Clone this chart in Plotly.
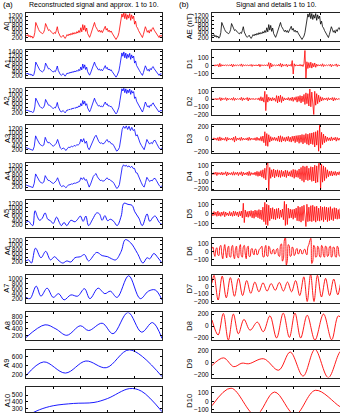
import numpy as np
import plotly.graph_objects as go

# ---------------- data ----------------
# sample axis: 0..1000 (relative time units)
signal = [300, 260, 330, 220, 290, 200, 260, 160, 230, 420,
          900, 760, 640, 560, 470, 430, 390, 370, 430, 560,
          850, 700, 590, 520, 560, 470, 440, 400, 360, 430,
          380, 520, 700, 450, 320, 250, 200, 260, 300, 210,
          150, 230, 330, 270, 360, 300, 390, 320, 420, 350,
          430, 370, 470, 400, 520, 430, 650, 460, 800, 540,
          760, 480, 640, 380, 240, 200, 320, 480, 620, 760,
          900, 720, 600, 560, 470, 540, 440, 520, 420, 500,
          620, 720, 540, 620, 470, 540, 440, 500, 400, 330,
          240, 150, 100, 180, 260, 420, 700, 1100, 1300, 1150,
          1350, 1080, 1320, 1040, 1260, 1100, 1320, 1000, 1260, 1080,
          1200, 820, 960, 700, 640, 520, 440, 340, 250, 190,
          340, 520, 700, 580, 440, 520, 400, 560, 480, 620,
          660, 540, 460, 380, 300, 240, 190, 300, 240, 310]

a1 = [300, 270, 320, 230, 280, 210, 250, 170, 240, 440,
      880, 770, 640, 560, 480, 430, 400, 380, 430, 550,
      830, 700, 590, 530, 550, 470, 440, 400, 370, 430,
      390, 510, 680, 450, 320, 250, 200, 250, 290, 220,
      160, 230, 320, 280, 350, 310, 380, 330, 410, 360,
      430, 380, 460, 410, 510, 440, 630, 480, 780, 560,
      740, 500, 620, 390, 250, 210, 320, 470, 610, 750,
      880, 720, 610, 560, 480, 530, 450, 510, 430, 500,
      610, 700, 550, 610, 480, 530, 450, 490, 400, 330,
      250, 160, 110, 180, 270, 430, 720, 1120, 1350, 1180,
      1400, 1100, 1340, 1060, 1280, 1120, 1330, 1020, 1250, 1090,
      1190, 830, 940, 710, 640, 520, 440, 350, 260, 200,
      340, 510, 690, 580, 450, 510, 410, 550, 490, 610,
      650, 540, 460, 380, 300, 250, 200, 290, 250, 300]

a2 = [300, 280, 300, 240, 260, 220, 230, 180, 250, 450,
      860, 760, 640, 560, 480, 430, 400, 390, 430, 540,
      800, 700, 590, 530, 540, 470, 440, 400, 380, 420,
      400, 500, 660, 450, 330, 260, 210, 250, 280, 220,
      170, 240, 310, 290, 340, 320, 370, 340, 400, 370,
      420, 390, 450, 420, 500, 450, 610, 500, 750, 580,
      720, 520, 600, 400, 260, 220, 320, 460, 600, 740,
      860, 720, 610, 560, 490, 520, 460, 500, 440, 490,
      600, 680, 560, 600, 490, 520, 460, 480, 410, 330,
      250, 170, 120, 180, 280, 440, 740, 1100, 1300, 1200,
      1330, 1120, 1300, 1080, 1250, 1120, 1290, 1040, 1220, 1100,
      1170, 850, 920, 720, 640, 520, 440, 360, 270, 210,
      330, 500, 680, 580, 460, 500, 420, 540, 500, 600,
      640, 540, 460, 380, 300, 260, 210, 280, 260, 290]

a3 = [300, 280, 260, 230, 200, 170, 350, 850, 700, 560,
      460, 410, 380, 420, 780, 620, 520, 540, 440, 400,
      360, 420, 500, 680, 420, 280, 220, 280, 250, 160,
      240, 320, 300, 360, 330, 400, 370, 430, 420, 480,
      700, 560, 720, 500, 600, 300, 200, 350, 550, 720,
      800, 880, 680, 580, 500, 520, 470, 500, 600, 680,
      560, 580, 480, 470, 380, 250, 130, 180, 300, 700,
      1150, 1300, 1200, 1320, 1150, 1300, 1100, 1250, 1100, 1150,
      850, 900, 680, 520, 400, 260, 200, 420, 680, 560,
      460, 540, 480, 620, 640, 500, 380, 260, 220, 300]

a4 = [300, 270, 250, 220, 190, 180, 380, 820, 700, 560,
      460, 410, 390, 440, 740, 620, 520, 510, 440, 400,
      370, 420, 500, 640, 430, 290, 220, 270, 240, 170,
      230, 310, 310, 350, 340, 390, 380, 420, 430, 470,
      640, 560, 650, 520, 560, 320, 200, 340, 540, 700,
      780, 840, 680, 580, 510, 520, 480, 500, 580, 640,
      560, 560, 490, 460, 380, 260, 140, 180, 320, 720,
      1120, 1250, 1180, 1230, 1150, 1200, 1120, 1180, 1080, 1080,
      880, 860, 680, 520, 400, 270, 200, 420, 660, 560,
      460, 520, 500, 600, 610, 500, 380, 270, 220, 260]

a5_t = [0, 20, 35, 50, 66, 85, 100, 120, 140, 160, 180, 200, 225, 245, 260,
        280, 300, 330, 360, 380, 400, 420, 440, 460, 490, 520, 540, 560, 580,
        600, 620, 645, 670, 700, 720, 750, 780, 800, 830, 855, 890, 910, 935,
        950, 980, 1000]
a5_v = [300, 350, 230, 150, 850, 550, 400, 500, 750, 450, 380, 250, 550, 300, 150,
        300, 150, 400, 330, 450, 600, 350, 600, 150, 450, 750, 700, 400, 620,
        380, 450, 350, 150, 600, 1200, 1150, 1100, 800, 500, 150, 700, 350, 550,
        600, 300, 200]

a6_t = [0, 20, 40, 70, 110, 145, 180, 210, 235, 270, 300, 330, 360, 400, 430,
        460, 520, 560, 600, 630, 660, 700, 730, 770, 820, 860, 890, 910, 940,
        970, 1000]
a6_v = [250, 300, 150, 850, 400, 700, 300, 450, 300, 150, 250, 200, 400, 450, 550,
        250, 650, 500, 450, 350, 300, 700, 1250, 1100, 600, 150, 400, 350, 600,
        400, 150]

a7_t = [0, 30, 75, 110, 155, 200, 240, 280, 330, 380, 430, 470, 530, 580, 620,
        670, 755, 840, 900, 950, 1000]
a7_v = [250, 200, 700, 300, 620, 250, 400, 150, 350, 300, 600, 200, 620, 400, 500,
        250, 1120, 200, 500, 550, 150]

a8_t = [0, 140, 220, 300, 400, 460, 560, 640, 750, 850, 930, 1000]
a8_v = [130, 530, 400, 200, 500, 350, 580, 250, 920, 300, 600, 100]

a9_t = [0, 130, 290, 440, 590, 760, 1000]
a9_v = [170, 480, 230, 500, 350, 750, 150]

a10_t = [0, 100, 200, 350, 500, 600, 760, 850, 1000]
a10_v = [180, 280, 340, 375, 390, 450, 600, 560, 250]

d1 = [5, -8, 6, -10, 8, -6, 12, -20, 25, -15,
      10, -8, 6, -5, 8, -6, 5, -4, 6, -8,
      15, -20, 12, -10, 6, -5, 8, -6, 5, -7,
      18, -15, 10, -6, 5, -4, 6, -5, 4, -6,
      12, -14, 8, -6, 5, -5, 6, -8, 15, -18,
      10, -6, 5, -4, 6, -5, 8, -10, 35, -40,
      30, -20, 10, -6, 5, -5, 6, -8, 12, -10,
      25, -22, 18, -10, 6, -5, 15, -18, 8, -6,
      10, -12, 60, -110, 20, -10, 8, -6, 5, -8,
      12, -10, 8, -15, 20, 190, -170, 45, -40, 35,
      -30, 40, -35, 25, -20, 30, -25, 15, -10, 8,
      -6, 10, -12, 20, -15, 8, -6, 5, -4, 6,
      -5, 15, -18, 10, -6, 5, -4, 18, -16, 8,
      -6, 5, -4, 6, -5, 4, -5, 6, -4, 5]

d2 = [8, -10, 6, -8, 10, -12, 8, -6, 20, -22,
      15, -10, 8, -6, 18, -20, 12, -8, 6, -8,
      10, -15, 20, -18, 10, -8, 6, -5, 8, -10,
      22, -20, 15, -10, 8, -6, 20, -25, 15, -10,
      8, -6, 10, -8, 6, -5, 8, -10, 15, -20,
      30, -25, 20, -40, 100, -150, 60, -40, 25, -20,
      15, -25, 20, -15, 10, -30, 45, -50, 40, -35,
      50, -45, 30, -25, 15, -10, 8, -12, 20, -18,
      15, -20, 25, -30, 20, -15, 30, -40, 35, -30,
      45, -50, 40, -35, 60, -70, 80, -60, 70, -90,
      130, -100, 90, -110, -200, 100, -80, 70, -60, 50,
      -40, 30, -25, 20, -15, 10, -8, 15, -20, 18,
      -12, 10, -8, 20, -25, 18, -15, 10, -8, 6,
      -5, 8, -6, 5, -4, 6, -5, 4, -6, 5]

d3 = [10, -15, 20, -12, 15, -20, 25, -30, 35, -25,
      20, -15, 10, -20, 30, -35, 25, -15, 10, -12,
      15, -20, 30, -50, 45, -25, 15, -10, 20, -25,
      30, -20, 15, -12, 10, -15, 20, -25, 30, -20,
      15, -10, 12, -15, 20, -25, 30, -20, 15, -25,
      40, -35, 50, -60, 120, -110, 90, -120, 70, -50,
      40, -30, 25, -20, 30, -25, 20, -35, 50, -45,
      55, -50, 40, -30, 25, -40, 35, -30, 45, -40,
      30, -50, 45, -35, 50, -60, 55, -45, 60, -70,
      65, -55, 75, -80, 70, -60, 90, -85, 80, -100,
      95, -80, 100, -90, 110, -130, 120, -100, 140, -200,
      230, -150, 110, -90, 80, -60, 50, -40, 30, -25,
      20, -30, 35, -25, 20, -15, 30, -35, 25, -20,
      15, -20, 25, -15, 10, -12, 15, -10, 8, -10]

d4 = [10, -12, 15, -10, 20, -25, 15, -10, 12, -15,
      20, -18, 12, -10, 25, -30, 20, -15, 10, -12,
      15, -20, 25, -20, 15, -10, 20, -25, 15, -12,
      25, -30, 20, -15, 10, -15, 20, -25, 30, -25,
      15, -12, 10, -15, 20, -25, 30, -35, 25, -30,
      40, -45, 50, -60, 70, -80, 110, 160, -220, 80,
      -60, 50, -40, 60, -55, 45, -35, 50, -45, 40,
      -50, 45, -35, 30, -40, 45, -50, 40, -30, 25,
      -35, 40, -45, 55, -60, 50, -45, 40, -50, 60,
      -70, 80, -90, 100, -110, 90, -80, 100, -90, 70,
      -80, 90, -100, 85, -95, 110, -120, 100, -110, 130,
      170, -200, 120, -110, 100, -90, 80, -60, 50, -40,
      30, -25, 35, -30, 25, -20, 30, -25, 20, -15,
      25, -20, 15, -12, 10, -15, 12, -10, 8, -10]

d5 = [15, -20, 25, -15, 20, -25, 30, -20, 15, -25,
      20, -15, 25, -30, 20, -15, 10, -20, 25, -20,
      15, -25, 30, -20, 25, -15, 20, -30, 25, -20,
      30, -40, 110, -90, 40, -30, 25, -35, 30, -25,
      35, -40, 30, -45, 40, -30, 35, -40, 45, -50,
      40, -60, 70, -80, 120, -110, 100, -120, 90, -70,
      60, -50, 65, -55, 50, -60, 55, -45, 60, -50,
      40, -35, 50, -60, 130, -120, 100, -110, 60, -45,
      50, -40, 45, -55, 50, -40, 60, -70, 80, -75,
      70, -85, 80, -70, 90, -60, -130, 100, -80, 70,
      -75, 85, -80, 90, -70, 75, -85, 80, -70, 60,
      -75, 80, -65, 70, -80, 75, -60, 70, -80, 65,
      -70, 75, -60, 55, -70, 65, -50, 60, -55, 45,
      -50, 55, -40, 50, -45, 40, -50, 45, -40, 35]

d6 = [40, 60, -20, -60, 30, 50, -40, -50, 60, 80,
      -30, -90, 20, 90, -10, -80, 40, 70, -60, -70,
      50, 80, -40, -90, 30, 70, -60, -80, 40, 90,
      -50, -70, 60, 80, -30, -90, 50, 70, -60, -60,
      30, 40, -20, -40, 30, 30, -40, -30, 20, 40,
      50, 70, -60, -70, 40, 80, -50, -60, 70, 50,
      -20, -30, 20, 30, -30, -20, 30, 40, -50, -60,
      80, 100, -120, -90, 150, 180, -170, -110, 90, 70,
      -60, -50, 60, 40, -50, -30, 30, 40, -30, -20,
      30, 20, -30, -20, 25, 30, -20, -40, 60, 90,
      140, 170, -150, -120, 80, 60, -70, -60, 70, 50,
      -60, -70, 80, 60, -50, -70, 70, 60, -60, -50,
      60, 70, -70, -50, 60, 50, -60, -70, 70, 50,
      -50, -60, 50, 40, -40, -30, 40, 30, -30, -20]

d7_t = [0, 15, 45, 75, 105, 135, 165, 195, 225, 255, 285, 315, 345, 375, 405,
        435, 465, 495, 525, 555, 585, 615, 645, 675, 700, 725, 750, 775, 805,
        835, 865, 895, 925, 955, 985, 1000]
d7_v = [50, 150, -180, 140, -150, 120, -130, 110, -120, 80, -90, 60, -70, 50, -60,
        40, -50, 55, -60, 60, -70, 80, -120, 130, -200, 165, -200, 150, -140,
        110, -120, 100, -110, 90, -80, 0]

d8_t = [0, 45, 83, 120, 157, 194, 235, 280, 333, 377, 426, 475, 524, 569, 610,
        652, 700, 757, 820, 880, 930, 1000]
d8_v = [100, -150, 210, -235, 200, -130, 110, -70, 65, -95, 170, -200, 215, -190, 215,
        -200, 180, -235, 200, -230, 170, -100]

d9_t = [0, 85, 160, 220, 270, 380, 490, 575, 670, 757, 855, 950, 1000]
d9_v = [-50, 80, -70, -10, -20, 65, -130, 180, -230, 225, -255, 200, 100]

d10_t = [0, 140, 320, 460, 610, 760, 940, 1000]
d10_v = [-50, 155, -160, 110, -155, 130, -60, -110]

# ---------------- figure layout ----------------
W, H = 340, 414
XMAX = 1000
LX0, LX1 = 26, 162
RX0, RX1 = 212, 340
right_xmax = XMAX * (RX1 - RX0) / (LX1 - LX0)

def uni(v):
    return list(np.linspace(0, XMAX, len(v)))

BLUE = '#0000ff'
RED = '#ff0000'

left = [
    ('A0', uni(signal), signal, RED, [50, 1350], [200, 400, 600, 800, 1000, 1200], 'linear'),
    ('A1', uni(a1), a1, BLUE, [67, 1483], [200, 400, 600, 800, 1000, 1200, 1400], 'linear'),
    ('A2', uni(a2), a2, BLUE, [50, 1350], [200, 400, 600, 800, 1000, 1200], 'linear'),
    ('A3', uni(a3), a3, BLUE, [50, 1350], [200, 400, 600, 800, 1000, 1200], 'linear'),
    ('A4', uni(a4), a4, BLUE, [50, 1350], [200, 400, 600, 800, 1000, 1200], 'linear'),
    ('A5', a5_t, a5_v, BLUE, [50, 1350], [200, 400, 600, 800, 1000, 1200], 'spline'),
    ('A6', a6_t, a6_v, BLUE, [50, 1350], [200, 400, 600, 800, 1000, 1200], 'spline'),
    ('A7', a7_t, a7_v, BLUE, [40, 1150], [200, 400, 600, 800, 1000], 'spline'),
    ('A8', a8_t, a8_v, BLUE, [50, 920], [200, 400, 600, 800], 'spline'),
    ('A9', a9_t, a9_v, BLUE, [130, 750], [200, 400, 600], 'spline'),
    ('A10', a10_t, a10_v, BLUE, [200, 620], [300, 400, 500], 'spline'),
]
right = [
    ('AE (nT)', uni(signal), signal, 'black', [50, 1350], [200, 400, 600, 800, 1000, 1200], 'linear'),
    ('D1', uni(d1), d1, RED, [-160, 190], [-100, 0, 100], 'linear'),
    ('D2', uni(d2), d2, RED, [-212, 146], [-200, -100, 0, 100], 'linear'),
    ('D3', uni(d3), d3, RED, [-227, 227], [-200, 0, 200], 'linear'),
    ('D4', uni(d4), d4, RED, [-215, 142], [-200, -100, 0, 100], 'linear'),
    ('D5', uni(d5), d5, RED, [-143, 143], [-100, 0, 100], 'linear'),
    ('D6', uni(d6), d6, RED, [-172, 180], [-100, 0, 100], 'spline'),
    ('D7', d7_t, d7_v, RED, [-215, 155], [-200, -100, 0, 100], 'spline'),
    ('D8', d8_t, d8_v, RED, [-235, 227], [-200, 0, 200], 'spline'),
    ('D9', d9_t, d9_v, RED, [-255, 217], [-200, 0, 200], 'spline'),
    ('D10', d10_t, d10_v, RED, [-158, 165], [-100, 0, 100], 'spline'),
]

fig = go.Figure()
FONT = 'Liberation Sans, Arial, sans-serif'
layout = dict(width=W, height=H, margin=dict(l=0, r=0, t=0, b=0),
              paper_bgcolor='white', plot_bgcolor='white', showlegend=False,
              font=dict(family=FONT, size=7, color='black'))
annotations = []
PITCH, PH, TOP0 = 37.9, 28.0, 10.0

k = 0
for col, panels in enumerate([left, right]):
    x0, x1 = (LX0, LX1) if col == 0 else (RX0, RX1)
    xmax = XMAX if col == 0 else right_xmax
    for i, (name, xs, ys, color, yr, tv, shape) in enumerate(panels):
        k += 1
        top = TOP0 + PITCH * i
        bot = top + PH
        lo, hi = yr
        if bot > H:
            frac = (H - top) / PH
            lo = hi - (hi - lo) * frac
            bot = H
        ydom = [1 - bot / H, 1 - top / H]
        xdom = [x0 / W, min(1.0, x1 / W)]
        sfx = '' if k == 1 else str(k)
        lw = 0.8 if shape == 'linear' else 0.9
        fig.add_trace(go.Scatter(x=xs, y=ys, mode='lines',
                                 line=dict(color=color, width=lw, shape=shape, smoothing=1.0),
                                 xaxis='x' + sfx, yaxis='y' + sfx, hoverinfo='skip',
                                 showlegend=False))
        layout['xaxis' + sfx] = dict(domain=xdom, range=[0, xmax], anchor='y' + sfx,
                                     showticklabels=False, ticks='inside', ticklen=2,
                                     tickvals=[200, 400, 600, 800], tickcolor='black',
                                     showline=True, linecolor='#222', linewidth=1,
                                     mirror='ticks', showgrid=False, zeroline=False,
                                     fixedrange=True)
        layout['yaxis' + sfx] = dict(domain=ydom, range=[lo, hi], anchor='x' + sfx,
                                     tickvals=tv, ticks='inside', ticklen=2,
                                     tickcolor='black', showline=True, linecolor='#222',
                                     linewidth=1, mirror=('ticks' if col == 0 else False),
                                     showgrid=False,
                                     zeroline=False, tickfont=dict(size=6.5, family=FONT),
                                     ticklabelstandoff=1, fixedrange=True)
        tx = 7 if col == 0 else 189.5
        annotations.append(dict(text=name, xref='paper', yref='paper', x=tx / W,
                                y=1 - (top + PH / 2) / H, showarrow=False, textangle=-90,
                                font=dict(size=7.5, family=FONT), xanchor='center',
                                yanchor='middle'))

annotations += [
    dict(text='(a)', xref='paper', yref='paper', x=1 / W, y=1 - 2 / H, xanchor='left',
         yanchor='middle', showarrow=False, font=dict(size=8, family=FONT)),
    dict(text='Reconstructed signal and approx. 1 to 10.', xref='paper', yref='paper',
         x=94 / W, y=1 - 2 / H, xanchor='center', yanchor='middle', showarrow=False,
         font=dict(size=7, family=FONT)),
    dict(text='(b)', xref='paper', yref='paper', x=177 / W, y=1 - 2 / H, xanchor='left',
         yanchor='middle', showarrow=False, font=dict(size=8, family=FONT)),
    dict(text='Signal and details 1 to 10.', xref='paper', yref='paper',
         x=276 / W, y=1 - 2 / H, xanchor='center', yanchor='middle', showarrow=False,
         font=dict(size=7, family=FONT)),
]
layout['annotations'] = annotations
fig.update_layout(**layout)
fig.write_html('out.html', config={'displayModeBar': False})
